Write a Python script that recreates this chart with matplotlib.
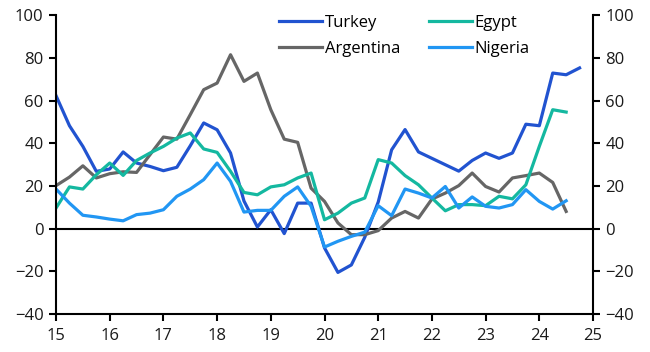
import matplotlib
matplotlib.use('Agg')
import matplotlib.pyplot as plt
import numpy as np

# Datos trimestrales desde 2015 T1
turkey = [62.4, 48.3, 38.6, 26.9, 28, 36, 30.8, 29.2, 27.2, 28.8, 38.9, 49.6,
          46.4, 35.5, 13, 0.8, 8.9, -2.3, 12, 12, -9, -20.5, -17, -4,
          12.5, 37, 46.5, 36, 33, 30, 27, 32, 35.5, 33, 35.5, 49,
          48.3, 73, 72.2, 75.4]
egypt = [9.7, 19.6, 18.6, 25.3, 30.8, 25, 32, 35.5, 38.6, 42.5, 44.9, 37.4,
         35.8, 26.9, 17, 15.9, 19.6, 20.6, 23.8, 26.1, 4.2, 7.3, 12, 14.4,
         32.4, 30.8, 24.9, 20.6, 14.4, 8.4, 11.3, 11.3, 10.8, 15.2, 14, 20.6,
         38.6, 55.8, 54.7]
argentina = [20.2, 24.2, 29.5, 23.8, 25.8, 26.7, 26.4, 34.7, 43, 42, 53.5, 65.2,
             68.3, 81.6, 69.1, 73, 55.8, 42, 40.5, 19, 12.8, 2.7, -2.8, -2.8,
             -0.9, 5, 8.1, 5, 13.9, 16.7, 20.2, 26.1, 19.8, 17.2, 23.8, 24.9,
             26.1, 21.7, 8.1]
nigeria = [18.6, 12, 6.3, 5.5, 4.5, 3.7, 6.6, 7.3, 8.9, 15.2, 18.6, 23,
           30.8, 22.2, 7.8, 8.6, 8.6, 15.2, 19.6, 10.5, -8.6, -5.9, -3.6, -1.6,
           10.8, 6.1, 18.6, 16.7, 14.4, 19.8, 9.7, 14.9, 10.5, 9.7, 11.3, 18.3,
           12.8, 9.2, 13.1]
x_ticks = list(range(15, 26))
y_ticks = list(range(-40, 101, 20))

plt.rcParams['font.family'] = ['Open Sans', 'DejaVu Sans']
plt.rcParams['font.size'] = 12

def quarters(values):
    return 15 + np.arange(len(values)) * 0.25

fig = plt.figure(figsize=(6.5, 3.52), dpi=100)
ax = fig.add_axes([0.0862, 0.108, 0.9123 - 0.0862, 0.956 - 0.108])

lw = 2.3
ax.plot(quarters(turkey), turkey, color='#2153d0', lw=lw, label='Turkey')
ax.plot(quarters(argentina), argentina, color='#666666', lw=lw, label='Argentina')
ax.plot(quarters(egypt), egypt, color='#14b8a0', lw=lw, label='Egypt')
ax.plot(quarters(nigeria), nigeria, color='#2196f3', lw=lw, label='Nigeria')
ax.axhline(0, color='black', lw=1.5, zorder=0)

ax.set_xlim(15, 25)
ax.set_ylim(-40, 100)
ax.set_xticks(x_ticks)
ax.set_yticks(y_ticks)
ax.spines['top'].set_visible(False)
for s in ['left', 'right', 'bottom']:
    ax.spines[s].set_linewidth(1.5)
ax.tick_params(axis='both', direction='out', length=5, width=1.5, colors='black',
               labelcolor='#1a1a1a', labelsize=12)
ax.tick_params(axis='y', left=True, right=True, labelleft=True, labelright=True, pad=4)
ax.tick_params(axis='x', pad=5)

ax.legend(ncol=2, loc='upper left', bbox_to_anchor=(279 / 650, 1 - 15 / 352),
          bbox_transform=fig.transFigure, frameon=False, fontsize=12,
          handlelength=2.6, handletextpad=0.15, columnspacing=1.7,
          labelspacing=0.62, borderaxespad=0, borderpad=0)

fig.savefig('out.png', dpi=100)
plt.close(fig)
